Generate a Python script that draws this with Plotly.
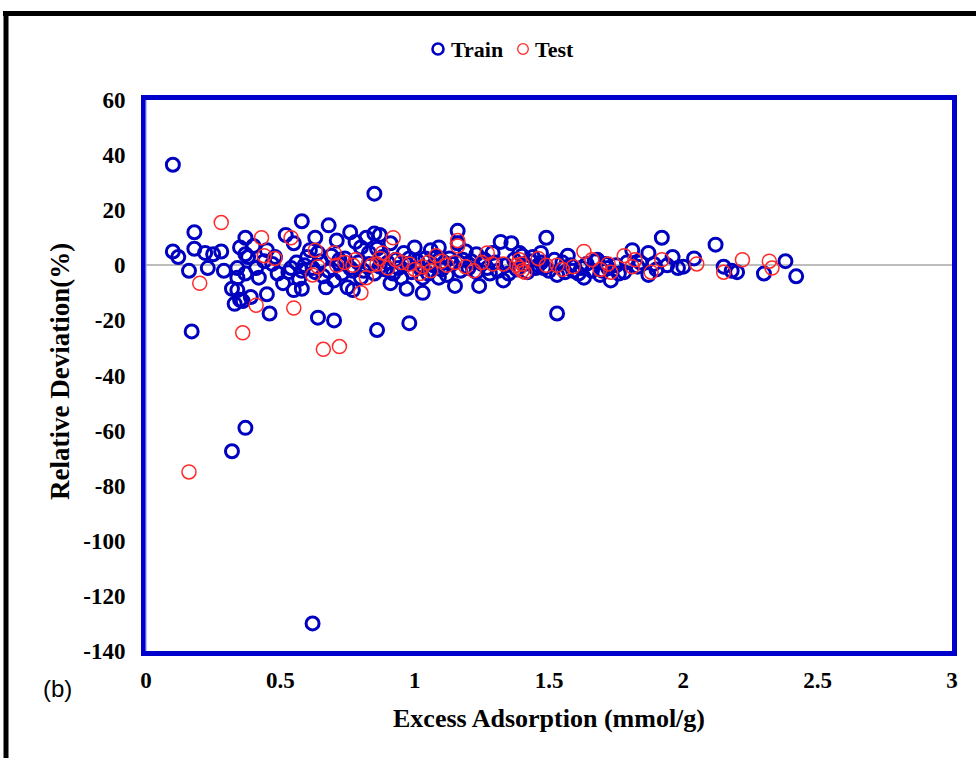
import plotly.graph_objects as go

# Relative deviation of the model vs. excess adsorption, training set
train_x = [
    0.10, 0.85, 0.58, 0.18, 1.16, 0.17, 0.32, 0.37, 0.62, 0.86, 0.98, 0.64, 0.70, 1.53, 0.46, 0.45,
    0.10, 0.12, 0.18, 0.16, 0.22, 0.25, 0.28, 0.23, 0.29, 0.35, 0.37, 0.37, 0.34, 0.34, 0.32, 0.34,
    0.35, 0.39, 0.38, 0.41, 0.42, 0.37, 0.40, 0.45, 0.48, 0.52, 0.55, 0.51, 0.55, 0.58, 0.56, 0.58,
    0.53, 0.63, 0.68, 0.64, 0.68, 0.67, 0.71, 0.72, 0.33, 0.36,
    0.76, 0.78, 0.82, 0.85, 0.87, 0.80, 0.83, 0.75, 0.77, 0.72, 0.77, 0.87, 0.91, 0.97, 1.03, 0.96,
    1.00, 1.06, 1.09, 1.16, 1.13, 1.09, 1.15, 1.24, 1.33, 1.32, 1.36, 1.29, 1.40, 1.25, 1.03, 0.95, 0.80,
    0.60, 0.62, 0.65, 0.66, 0.69, 0.73, 0.74, 0.76, 0.79, 0.81, 0.83, 0.85, 0.88, 0.89, 0.90, 0.92,
    0.93, 0.94, 0.97, 0.99, 1.01, 1.02, 1.04, 1.05, 1.07, 1.08, 1.10, 1.11, 1.12, 1.14, 1.17, 1.18,
    1.20, 1.21, 1.23, 1.26, 1.27, 1.28, 1.30, 1.31, 1.34, 1.35, 1.37, 1.38, 1.41, 1.42, 1.43, 1.45,
    1.44, 0.57, 0.61, 0.70, 0.86, 0.91, 0.98, 1.19, 1.23, 1.39, 1.47, 0.49, 0.47, 0.44, 0.54, 0.59, 0.63,
    1.49, 1.47, 1.46, 1.52, 1.53, 1.59, 1.63, 1.68, 1.73, 1.75, 1.81, 1.87, 1.92, 1.94, 1.87, 1.98,
    2.04, 2.12, 2.15, 1.64, 1.70, 2.00, 1.56, 1.61, 1.66, 1.69, 1.72, 1.76, 1.79, 1.50, 1.55, 1.58,
    1.84, 1.90, 1.96, 2.18, 2.20, 2.30, 2.38, 2.42, 1.48, 1.62, 1.67, 1.71, 1.78, 1.83, 1.89, 1.57,
]
train_y = [
    36.5, 26.0, 16.0, 12.0, 12.5, -24.0, -67.5, -59.0, -130.0, -23.5, -21.0, -19.0, -20.0, -17.5, -17.5, -10.5,
    5.0, 3.0, 6.0, -2.0, 4.5, 4.0, 5.0, -1.0, -2.0, 6.5, 10.0, 4.0, -1.0, -4.5, -8.5, -9.0,
    -12.5, -11.5, 3.0, -1.0, -4.5, -3.0, 7.0, 5.5, 3.0, 11.0, 8.0, -6.5, -9.0, -8.5, 1.0, -2.0,
    -2.5, 10.0, 14.5, 4.5, -2.0, -8.0, 9.0, 2.0, -14.0, -13.0,
    12.0, 8.5, 10.0, 11.5, 11.0, 6.5, 4.5, -8.0, -9.0, 0.5, -2.0, -0.5, -6.5, -8.5, -10.0, 4.5,
    6.5, 5.5, 6.5, 8.0, 2.5, -4.5, -7.5, -7.5, -5.5, 8.5, 8.0, 4.5, 3.5, 0.5, -4.5, -4.5, -4.5,
    3.0, -1.0, 1.5, -4.0, 3.5, -3.0, 2.5, -1.0, 1.0, -2.0, 0.5, -3.0, 3.0, -1.5, 1.0, -3.0,
    2.0, -1.0, 0.5, -2.5, 1.5, -1.0, 2.5, -3.0, 0.0, 3.0, -1.5, 1.0, -3.5, 0.5, -2.0, 2.0,
    -1.0, 1.5, -2.5, 2.0, -1.0, -3.0, 1.0, -2.0, 0.0, -3.0, 2.0, -1.5, 0.5, -2.5, 1.5, -1.0,
    3.0, -5.0, 5.5, -5.5, 6.0, 8.0, 2.5, 5.0, 4.0, 4.5, 1.0, -3.0, 0.5, 1.5, -1.0, 0.0, -2.5,
    10.0, 4.5, 0.0, 2.0, -3.5, -2.0, -4.5, 2.0, -5.5, 0.0, 5.5, 4.5, 10.0, 0.0, -3.5, -1.0,
    2.5, 7.5, -0.5, 0.5, -2.0, -0.5, -2.5, -3.0, -2.0, -3.5, -1.0, -3.0, 1.0, -2.0, 1.0, 0.0,
    1.0, -1.5, 3.0, -2.0, -2.5, -3.0, 1.5, -4.0, -1.0, -1.0, 1.5, 0.5, -2.5, -0.5, 0.5, 3.5,
]

# Test set
test_x = [
    0.16, 0.28, 0.36, 0.66, 0.72, 0.20, 0.41, 0.55, 0.80, 0.43, 0.44, 0.48, 0.54, 0.63, 0.64, 0.62,
    0.70, 0.71, 0.74, 0.77, 0.84, 0.87, 0.88, 0.92, 0.95, 0.98, 1.03, 1.05, 1.08, 1.12, 1.16, 1.15,
    1.19, 1.22, 1.27, 1.29, 1.38, 1.40, 1.39, 1.46, 0.82, 1.02, 1.06, 0.90, 0.93, 1.00, 1.10, 1.25,
    1.33, 1.39, 1.40, 1.41, 1.16, 0.86, 0.78, 1.53, 1.59, 1.63, 1.66, 1.72, 1.73, 1.78, 1.81, 1.88,
    1.92, 2.05, 2.15, 2.22, 2.32, 2.33, 1.82, 1.69, 1.55, 1.49,
]
test_y = [
    -75.0, 15.5, -24.5, -30.5, -29.5, -6.5, -14.5, -15.5, -10.0, 10.0, 3.5, 2.5, 10.0, 5.5, -0.5, -3.5,
    4.5, 0.0, 1.0, 0.0, 0.0, 2.5, 4.5, 10.0, 1.0, 0.5, -0.5, 1.0, 3.5, 0.0, 9.0, 1.0,
    -0.5, -2.0, 4.5, 0.5, 0.0, -2.0, 2.0, 2.5, -4.5, -3.0, -2.0, -1.0, 2.0, -1.5, 1.5, 1.0,
    0.5, -1.0, 0.5, -2.5, 7.0, 0.5, 2.0, 0.0, -0.5, 5.0, 2.0, 0.5, -2.5, 3.5, -0.5, -2.5,
    2.0, 0.5, -2.5, 2.0, 1.5, -1.0, 2.0, -1.5, -1.5, 0.0,
]

# Axis ticks
x_ticks = [0, 0.5, 1, 1.5, 2, 2.5, 3]
x_ticktext = ["0", "0.5", "1", "1.5", "2", "2.5", "3"]
y_ticks = [60, 40, 20, 0, -20, -40, -60, -80, -100, -120, -140]
y_ticktext = ["60", "40", "20", "0", "-20", "-40", "-60", "-80", "-100", "-120", "-140"]

BLUE = "#0000C0"
RED = "#FF2A2A"
FRAME = "#0000CC"
SERIF = "Liberation Serif"

W, H = 976, 758
ML, MR, MT, MB = 146, 24, 100, 107
PW, PH = W - ML - MR, H - MT - MB


def px_x(p):
    return (p - ML) / PW


def px_y(p):
    return (H - MB - p) / PH


fig = go.Figure()

fig.add_trace(go.Scatter(
    x=train_x, y=train_y, mode="markers", name="Train", showlegend=False,
    marker=dict(symbol="circle-open", size=13, color=BLUE, line=dict(width=3, color=BLUE)),
))
fig.add_trace(go.Scatter(
    x=test_x, y=test_y, mode="markers", name="Test", showlegend=False,
    marker=dict(symbol="circle-open", size=14, color=RED, line=dict(width=1.5, color=RED)),
))

axis_common = dict(
    showgrid=False, mirror=True, showline=True, linecolor=FRAME, linewidth=5,
    ticks="", tickfont=dict(family=SERIF, size=23, color="black", weight="bold"),
)

fig.update_xaxes(range=[0, 3], tickvals=x_ticks, ticktext=x_ticktext,
                 zeroline=False, ticklabelstandoff=4, **axis_common)
fig.update_yaxes(range=[-140, 60], tickvals=y_ticks, ticktext=y_ticktext,
                 zeroline=True, zerolinecolor="#BDBDBD", zerolinewidth=2,
                 ticklabelstandoff=11, **axis_common)

# legend glyphs drawn as small open circles next to the labels
legend_y = 49


def legend_circle(cx, r, color, width):
    return dict(type="circle", xref="paper", yref="paper",
                x0=px_x(cx - r), x1=px_x(cx + r),
                y0=px_y(legend_y + r), y1=px_y(legend_y - r),
                line=dict(color=color, width=width))


shapes = [
    # outer black frame (top and left edges)
    dict(type="line", xref="paper", yref="paper", x0=px_x(3), x1=px_x(990),
         y0=px_y(13.5), y1=px_y(13.5), line=dict(color="black", width=5)),
    dict(type="line", xref="paper", yref="paper", x0=px_x(6), x1=px_x(6),
         y0=px_y(11), y1=px_y(770), line=dict(color="black", width=5)),
    # light inner stroke of the plot frame
    dict(type="line", xref="paper", yref="paper", x0=px_x(146), x1=px_x(146),
         y0=0, y1=1, line=dict(color="#9A9AF0", width=1.2)),
    legend_circle(438, 5.5, BLUE, 2.6),
    legend_circle(523, 5.3, RED, 1.3),
]

annotations = [
    dict(text="Train", xref="paper", yref="paper", x=px_x(449), y=px_y(legend_y),
         showarrow=False, xanchor="left", yanchor="middle",
         font=dict(family=SERIF, size=22, color="black", weight="bold")),
    dict(text="Test", xref="paper", yref="paper", x=px_x(533), y=px_y(legend_y),
         showarrow=False, xanchor="left", yanchor="middle",
         font=dict(family=SERIF, size=22, color="black", weight="bold")),
    dict(text="Excess Adsorption (mmol/g)", xref="paper", yref="paper",
         x=px_x(549), y=px_y(718), showarrow=False, xanchor="center", yanchor="middle",
         font=dict(family=SERIF, size=26, color="black", weight="bold")),
    dict(text="Relative Deviation(%)", xref="paper", yref="paper", textangle=-90,
         x=px_x(60), y=px_y(372), showarrow=False, xanchor="center", yanchor="middle",
         font=dict(family=SERIF, size=27, color="black", weight="bold")),
    dict(text="(b)", xref="paper", yref="paper",
         x=px_x(57), y=px_y(688), showarrow=False, xanchor="center", yanchor="middle",
         font=dict(family="Liberation Sans", size=24, color="black")),
]

fig.update_layout(
    width=W, height=H,
    margin=dict(l=ML, r=MR, t=MT, b=MB),
    paper_bgcolor="white", plot_bgcolor="white",
    showlegend=False,
    shapes=shapes,
    annotations=annotations,
)

fig.write_html("out.html")
